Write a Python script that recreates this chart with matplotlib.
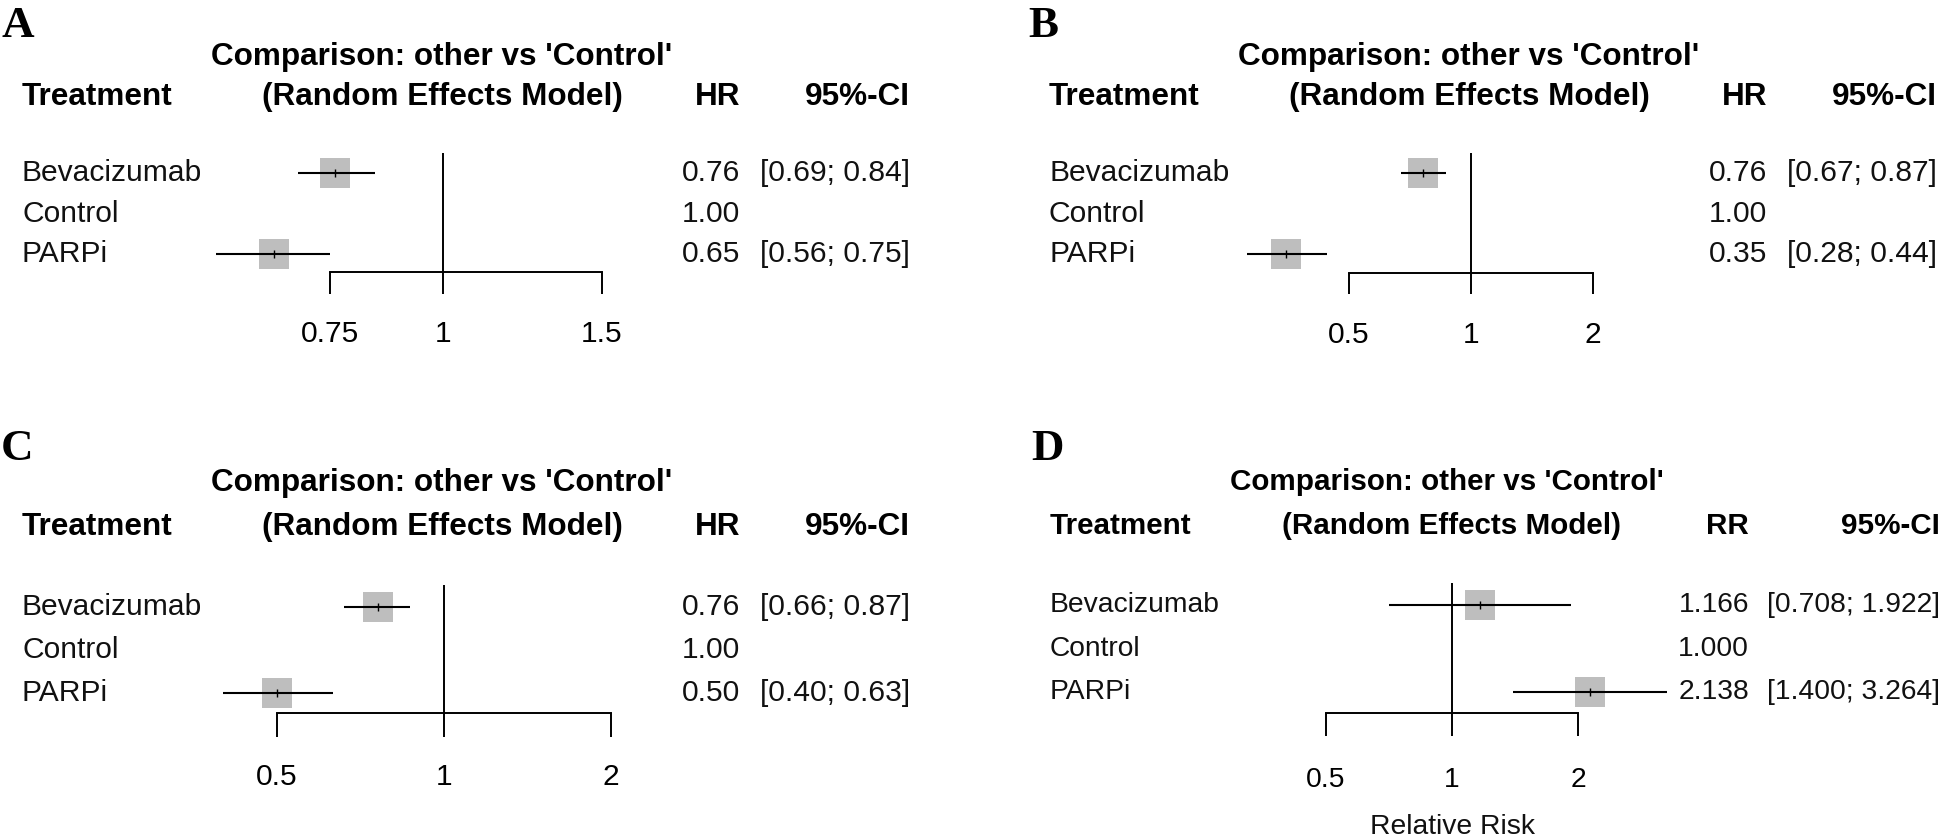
import math
import matplotlib
matplotlib.use("Agg")
import matplotlib.pyplot as plt
from matplotlib import transforms
from matplotlib.ticker import FixedLocator, NullLocator

plt.rcParams["font.family"] = ["Liberation Sans", "DejaVu Sans"]

W, H = 1943, 838

treatments = ["Bevacizumab", "Control", "PARPi"]

# panel A: HR, random effects
a_est = [0.76, 1.00, 0.65]
a_lo = [0.69, None, 0.56]
a_hi = [0.84, None, 0.75]
a_ticks = [0.75, 1, 1.5]
a_tick_labels = ["0.75", "1", "1.5"]

# panel B
b_est = [0.76, 1.00, 0.35]
b_lo = [0.67, None, 0.28]
b_hi = [0.87, None, 0.44]
b_ticks = [0.5, 1, 2]
b_tick_labels = ["0.5", "1", "2"]

# panel C
c_est = [0.76, 1.00, 0.50]
c_lo = [0.66, None, 0.40]
c_hi = [0.87, None, 0.63]
c_ticks = [0.5, 1, 2]
c_tick_labels = ["0.5", "1", "2"]

# panel D: relative risk
d_est = [1.166, 1.000, 2.138]
d_lo = [0.708, None, 1.400]
d_hi = [1.922, None, 3.264]
d_ticks = [0.5, 1, 2]
d_tick_labels = ["0.5", "1", "2"]

fig = plt.figure(figsize=(W / 100, H / 100), dpi=100)


def draw_panel(letter, measure, est, lo, hi, ticks, tick_labels, digits, lay, xlabel=None):
    k = lay["fs"]
    f_reg = 21.6 * k
    f_bold = 22.7 * k
    x1, s = lay["x_one"], lay["scale"]
    y0, dy = lay["row_y"], lay["row_dy"]
    L, R = x1 - 260, x1 + 240
    T, B = lay["header_y"] + 25, lay["axis_y"] + 30

    ax = fig.add_axes([L / W, 1 - B / H, (R - L) / W, (B - T) / H])
    ax.patch.set_visible(False)
    ax.set_xscale("log")
    ax.set_xlim(math.exp((L - x1) / s), math.exp((R - x1) / s))
    ax.set_ylim((B - y0) / dy, (T - y0) / dy)

    axis_row = (lay["axis_y"] - y0) / dy
    for side in ["top", "left", "right"]:
        ax.spines[side].set_visible(False)
    ax.spines["bottom"].set_position(("data", axis_row))
    ax.spines["bottom"].set_bounds(ticks[0], ticks[-1])
    ax.spines["bottom"].set_linewidth(1.4)
    ax.set_yticks([])
    ax.xaxis.set_major_locator(FixedLocator(ticks))
    ax.xaxis.set_minor_locator(NullLocator())
    ax.set_xticklabels(tick_labels)
    pad_px = lay["label_y"] - 17 * k - (lay["axis_y"] + lay["tick_len"])
    ax.tick_params(axis="x", direction="out", length=lay["tick_len"] * 0.72,
                   width=1.4, pad=pad_px * 0.72, labelsize=f_reg)

    # line of no effect
    ax.vlines(1, (lay["ref_top"] - y0) / dy, axis_row, color="black", lw=1.4)

    blend = transforms.blended_transform_factory(fig.transFigure, ax.transData)
    for i, name in enumerate(treatments):
        e, l, h = est[i], lo[i], hi[i]
        if l is not None:
            ax.plot(e, i, marker="s", ms=21, color="#bebebe", mew=0, zorder=2, clip_on=False)
            ax.hlines(i, l, h, color="black", lw=1.5, zorder=3, clip_on=False)
            ax.plot(e, i, marker="|", ms=6, mew=1.0, color="black", zorder=4, clip_on=False)
            ax.text(lay["ci_x"] / W, i, f"[{l:.{digits}f}; {h:.{digits}f}]", transform=blend,
                    ha="right", va="center", fontsize=f_reg, color="#111111")
        ax.text(lay["treat_x"] / W, i, name, transform=blend, ha="left", va="center",
                fontsize=f_reg, color="#111111")
        ax.text(lay["est_x"] / W, i, f"{e:.{digits}f}", transform=blend, ha="right",
                va="center", fontsize=f_reg, color="#111111")

    hy = 1 - lay["header_y"] / H
    fig.text(lay["treat_x"] / W, hy, "Treatment", ha="left", va="center",
             fontsize=f_bold, weight="bold")
    fig.text(lay["model_x"] / W, hy, "(Random Effects Model)", ha="center", va="center",
             fontsize=f_bold, weight="bold")
    fig.text(lay["est_x"] / W, hy, measure, ha="right", va="center",
             fontsize=f_bold, weight="bold")
    fig.text(lay["ci_x"] / W, hy, "95%-CI", ha="right", va="center",
             fontsize=f_bold, weight="bold")
    fig.text(lay["title_x"] / W, 1 - lay["title_y"] / H, "Comparison: other vs 'Control'",
             ha="center", va="center", fontsize=f_bold, weight="bold")
    fig.text(lay["letter_x"] / W, 1 - lay["letter_y"] / H, letter, ha="left", va="baseline",
             fontsize=32.4, weight="bold", family="Liberation Serif")
    if xlabel:
        fig.text(x1 / W, 1 - lay["xlabel_y"] / H, xlabel, ha="center", va="center",
                 fontsize=f_reg, color="#111111")


lay_a = dict(fs=1.0, letter_x=1, letter_y=37, title_x=442, title_y=57, header_y=97,
             treat_x=22, model_x=442, est_x=740, ci_x=910, row_y=173, row_dy=40.5,
             x_one=443, scale=392, ref_top=153, axis_y=272, tick_len=22, label_y=337)
lay_b = dict(fs=1.0, letter_x=1028, letter_y=37, title_x=1469, title_y=57, header_y=97,
             treat_x=1049, model_x=1469, est_x=1767, ci_x=1937, row_y=173, row_dy=40.5,
             x_one=1471, scale=176, ref_top=153, axis_y=273, tick_len=21, label_y=338)
lay_c = dict(fs=1.0, letter_x=1, letter_y=460, title_x=442, title_y=483, header_y=527,
             treat_x=22, model_x=442, est_x=740, ci_x=910, row_y=607, row_dy=43,
             x_one=444, scale=241, ref_top=585, axis_y=713, tick_len=24, label_y=780)
lay_d = dict(fs=0.94, letter_x=1031, letter_y=460, title_x=1447, title_y=482, header_y=526,
             treat_x=1050, model_x=1451, est_x=1749, ci_x=1940, row_y=605, row_dy=43.5,
             x_one=1452, scale=182, ref_top=583, axis_y=713, tick_len=23, label_y=783,
             xlabel_y=827)

draw_panel("A", "HR", a_est, a_lo, a_hi, a_ticks, a_tick_labels, 2, lay_a)
draw_panel("B", "HR", b_est, b_lo, b_hi, b_ticks, b_tick_labels, 2, lay_b)
draw_panel("C", "HR", c_est, c_lo, c_hi, c_ticks, c_tick_labels, 2, lay_c)
draw_panel("D", "RR", d_est, d_lo, d_hi, d_ticks, d_tick_labels, 3, lay_d, xlabel="Relative Risk")

fig.savefig("out.png", dpi=100)
